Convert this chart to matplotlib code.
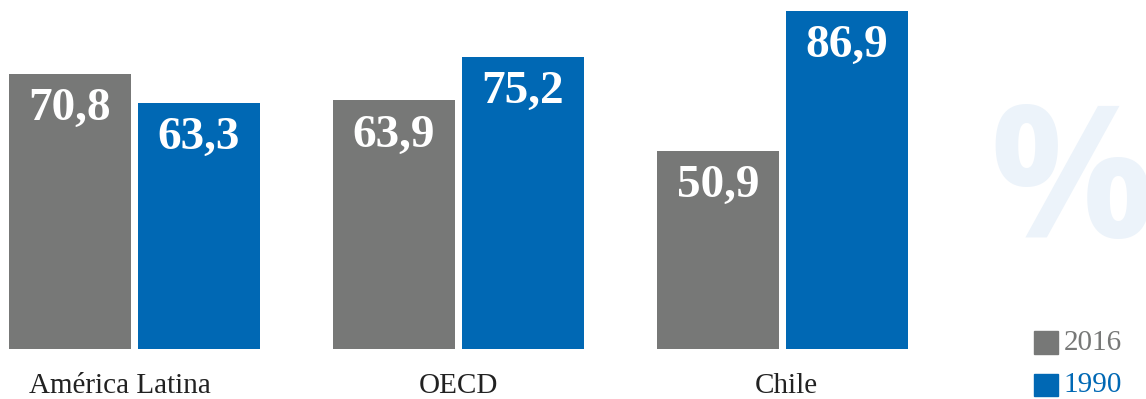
import matplotlib
matplotlib.use("Agg")
from matplotlib import pyplot as plt
import numpy as np

categories = ['América Latina', 'OECD', 'Chile']
values_2016 = [70.8, 63.9, 50.9]
values_1990 = [63.3, 75.2, 86.9]
series_names = ['2016', '1990']

gray = '#777877'
blue = '#0068b4'

fig = plt.figure(figsize=(11.46, 3.99), dpi=100)
ax = fig.add_axes([0, 0, 1, 1])
ax.set_xlim(-0.4151, 3.1219)
ax.set_ylim(-12.855, 89.73)
ax.axis('off')

x = np.arange(len(categories))
w = 0.3765
off = 0.199
b1 = ax.bar(x - off, values_2016, w, color=gray)
b2 = ax.bar(x + off, values_1990, w, color=blue)

for bars, vals in ((b1, values_2016), (b2, values_1990)):
    for r, v in zip(bars, vals):
        ax.text(r.get_x() + r.get_width() / 2, v - 9.0, f'{v:.1f}'.replace('.', ','),
                ha='center', va='center', color='white', fontsize=34,
                fontweight='bold', family='Liberation Serif')

label_shift = [-0.045, 0.0, 0.013]
for xi, c, s in zip(x, categories, label_shift):
    ax.text(xi + s, -9.6, c, ha='center', va='center', fontsize=21,
            family='Liberation Serif', color='#222222')

# big watermark
ax.text(2.64, 41, '%', ha='left', va='center', fontsize=132, fontweight='bold',
        family='Open Sans', color='#ecf3fa', zorder=0, clip_on=True)

# legend
for name, col, yy in ((series_names[0], gray, 1.6), (series_names[1], blue, -9.2)):
    ax.add_patch(plt.Rectangle((2.7765, yy - 2.9), 0.074, 5.8, color=col))
    ax.text(2.868, yy, name, ha='left', va='center', fontsize=21,
            family='Liberation Serif', color=col)

fig.savefig('out.png', dpi=100)
